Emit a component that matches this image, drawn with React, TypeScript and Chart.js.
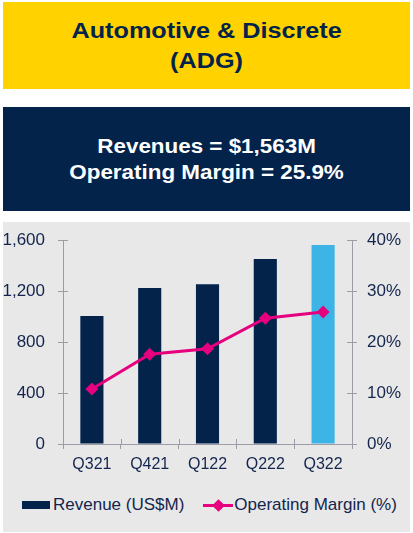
import React, { useEffect, useRef } from "react";
import { Chart, registerables } from "chart.js";

Chart.register(...registerables);

// values
const quarters = ["Q321", "Q421", "Q122", "Q222", "Q322"];
const revenue = [1005, 1225, 1254, 1452, 1563];
const operatingMargin = [10.8, 17.6, 18.7, 24.7, 25.9];
const revenueTicks = [0, 400, 800, 1200, 1600];
const marginTicks = [0, 10, 20, 30, 40];
const seriesLabels = ["Revenue (US$M)", "Operating Margin (%)"];

const NAVY = "#03234B";
const LIGHT_BLUE = "#3CB4E6";
const PINK = "#E6007E";
const YELLOW = "#FFD200";
const PANEL = "#E8E8E8";
const AXIS = "#9C9CA6";
const TEXT = "#14254D";
const FONT = "'Liberation Sans', Arial, sans-serif";

// extends the outward tick marks across the axis lines (slide style)
const crossTicks = {
  id: "crossTicks",
  afterDatasetsDraw(chart: any) {
    const { ctx, chartArea, scales } = chart;
    const len = 5;
    ctx.save();
    ctx.strokeStyle = AXIS;
    ctx.lineWidth = 1;
    ctx.beginPath();
    scales.y.ticks.forEach((t: any) => {
      const p = Math.round(scales.y.getPixelForValue(t.value)) + 0.5;
      ctx.moveTo(chartArea.left, p);
      ctx.lineTo(chartArea.left + len, p);
    });
    scales.y1.ticks.forEach((t: any) => {
      const p = Math.round(scales.y1.getPixelForValue(t.value)) + 0.5;
      ctx.moveTo(chartArea.right, p);
      ctx.lineTo(chartArea.right - len, p);
    });
    for (let i = 0; i <= quarters.length; i++) {
      const p = Math.round(scales.x.getPixelForValue(i - 0.5)) + 0.5;
      ctx.moveTo(p, chartArea.bottom);
      ctx.lineTo(p, chartArea.bottom - len);
    }
    ctx.stroke();
    ctx.restore();
  },
};

function RevenueChart() {
  const canvasRef = useRef<HTMLCanvasElement | null>(null);

  useEffect(() => {
    if (!canvasRef.current) return;
    const last = quarters.length - 1;

    const chart = new Chart(canvasRef.current, {
      type: "bar",
      data: {
        labels: quarters,
        datasets: [
          {
            type: "line",
            label: seriesLabels[1],
            data: operatingMargin,
            yAxisID: "y1",
            borderColor: PINK,
            backgroundColor: PINK,
            borderWidth: 3,
            pointStyle: "rectRot",
            pointRadius: 6.5,
            pointBorderWidth: 0,
            order: 0,
          } as any,
          {
            type: "bar",
            label: seriesLabels[0],
            data: revenue,
            yAxisID: "y",
            backgroundColor: quarters.map((_, i) => (i === last ? LIGHT_BLUE : NAVY)),
            barPercentage: 0.4,
            categoryPercentage: 1,
            order: 1,
          },
        ],
      },
      options: {
        animation: false,
        responsive: true,
        maintainAspectRatio: false,
        layout: { padding: { top: 12, left: 0, right: 0, bottom: 0 } },
        plugins: {
          legend: { display: false },
          tooltip: { enabled: false },
        },
        scales: {
          x: {
            grid: { drawOnChartArea: false, color: AXIS, tickLength: 5, offset: true },
            border: { color: AXIS },
            ticks: { color: TEXT, font: { family: FONT, size: 16 }, padding: 6 },
            afterFit: (scale: any) => {
              scale.height = 38;
            },
          },
          y: {
            position: "left",
            min: revenueTicks[0],
            max: revenueTicks[revenueTicks.length - 1],
            afterBuildTicks: (scale: any) => {
              scale.ticks = revenueTicks.map((v) => ({ value: v }));
            },
            grid: { drawOnChartArea: false, color: AXIS, tickLength: 5 },
            border: { color: AXIS },
            ticks: {
              color: TEXT,
              font: { family: FONT, size: 17 },
              padding: 13,
              callback: (v: any) => Number(v).toLocaleString("en-US"),
            },
            afterFit: (scale: any) => {
              scale.width = 60;
            },
          },
          y1: {
            position: "right",
            min: marginTicks[0],
            max: marginTicks[marginTicks.length - 1],
            afterBuildTicks: (scale: any) => {
              scale.ticks = marginTicks.map((v) => ({ value: v }));
            },
            grid: { drawOnChartArea: false, color: AXIS, tickLength: 5 },
            border: { color: AXIS },
            ticks: {
              color: TEXT,
              font: { family: FONT, size: 17 },
              padding: 10,
              callback: (v: any) => v + "%",
            },
            afterFit: (scale: any) => {
              scale.width = 58;
            },
          },
        },
      },
      plugins: [crossTicks],
    });

    return () => {
      chart.destroy();
    };
  }, []);

  return (
    <div style={{ position: "absolute", left: 0, top: -5, width: 407, height: 265 }}>
      <canvas ref={canvasRef} />
    </div>
  );
}

// the slide headings are rendered slightly wide in the source
const wide: React.CSSProperties = { transform: "scaleX(1.12)", whiteSpace: "nowrap" };

export default function App() {
  return (
    <div
      style={{
        position: "absolute",
        left: 0,
        top: 0,
        width: 413,
        height: 533,
        background: "#fff",
        fontFamily: FONT,
      }}
    >
      <div
        style={{
          position: "absolute",
          left: 3,
          top: 2,
          width: 407,
          height: 87,
          background: YELLOW,
          color: NAVY,
          fontWeight: "bold",
          fontSize: 22.5,
          lineHeight: "30px",
          display: "flex",
          flexDirection: "column",
          justifyContent: "center",
          alignItems: "center",
        }}
      >
        <div style={wide}>Automotive &amp; Discrete</div>
        <div style={wide}>(ADG)</div>
      </div>

      <div
        style={{
          position: "absolute",
          left: 3,
          top: 107,
          width: 407,
          height: 104,
          background: NAVY,
          color: "#fff",
          fontWeight: "bold",
          fontSize: 20,
          lineHeight: "26px",
          display: "flex",
          flexDirection: "column",
          justifyContent: "center",
          alignItems: "center",
        }}
      >
        <div style={wide}>Revenues = $1,563M</div>
        <div style={wide}>Operating Margin = 25.9%</div>
      </div>

      <div
        style={{
          position: "absolute",
          left: 3,
          top: 222,
          width: 407,
          height: 310,
          background: PANEL,
        }}
      >
        <RevenueChart />
        <div
          style={{
            position: "absolute",
            left: 19,
            top: 273,
            height: 20,
            display: "flex",
            alignItems: "center",
            fontSize: 17,
            color: TEXT,
            whiteSpace: "nowrap",
          }}
        >
          <span style={{ display: "inline-block", width: 28, height: 8, background: NAVY, marginRight: 3 }} />
          <span>{seriesLabels[0]}</span>
          <span
            style={{
              position: "relative",
              display: "inline-block",
              width: 30,
              height: 3,
              background: PINK,
              marginLeft: 19,
              marginRight: 1,
            }}
          >
            <span
              style={{
                position: "absolute",
                left: 10.5,
                top: -3,
                width: 9,
                height: 9,
                background: PINK,
                transform: "rotate(45deg)",
              }}
            />
          </span>
          <span>{seriesLabels[1]}</span>
        </div>
      </div>
    </div>
  );
}
